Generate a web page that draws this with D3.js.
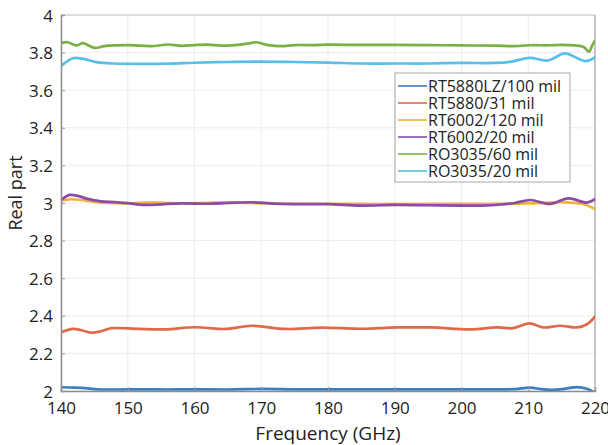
<!DOCTYPE html>
<html>
<head>
<meta charset="utf-8">
<script src="https://cdn.jsdelivr.net/npm/d3@7"></script>
<style>
  html, body { margin: 0; padding: 0; background: #fff; }
  svg { display: block; font-family: "Open Sans", "Noto Sans", sans-serif; }
</style>
</head>
<body>
<svg id="chart" width="608" height="445"></svg>
<script>
// Real part of permittivity vs frequency for six laminate samples
const xTicks = [140, 150, 160, 170, 180, 190, 200, 210, 220];
const yTicks = [2, 2.2, 2.4, 2.6, 2.8, 3, 3.2, 3.4, 3.6, 3.8, 4];

const seriesNames = ["RT5880LZ/100 mil", "RT5880/31 mil", "RT6002/120 mil",
                     "RT6002/20 mil", "RO3035/60 mil", "RO3035/20 mil"];
const seriesColors = ["#3a7dc0", "#e0694a", "#efb23e", "#8a4ca6", "#7bb046", "#58bfea"];

const rt5880lzFreq = [140, 142, 144, 145.5, 148, 152, 156, 160, 165, 170, 175, 180, 185, 190, 195, 200, 205, 208, 210.2, 212, 213.3, 215.5, 217.3, 218.8, 220];
const rt5880lzVal  = [2.02, 2.018, 2.014, 2.009, 2.008, 2.009, 2.008, 2.009, 2.008, 2.011, 2.009, 2.009, 2.009, 2.009, 2.009, 2.009, 2.009, 2.01, 2.018, 2.01, 2.006, 2.012, 2.021, 2.012, 1.992];

const rt5880Freq = [140, 141.8, 143.2, 144.6, 146, 147.6, 151.6, 155.6, 160, 164.6, 168.6, 173.6, 179, 185, 190.3, 195.3, 201.3, 205.3, 207.7, 210.2, 212.2, 214.8, 217.3, 218.8, 220];
const rt5880Val  = [2.312, 2.33, 2.322, 2.31, 2.318, 2.334, 2.33, 2.328, 2.339, 2.33, 2.347, 2.33, 2.337, 2.331, 2.338, 2.338, 2.328, 2.338, 2.334, 2.36, 2.338, 2.347, 2.338, 2.355, 2.395];

const rt6002thickFreq = [140, 141.5, 143, 145, 147, 150, 153.7, 157, 160, 165, 168, 172, 176, 180, 185, 190, 195, 200, 205, 210, 215, 218, 220];
const rt6002thickVal  = [3.012, 3.02, 3.016, 3.006, 3.0, 2.998, 3.004, 2.998, 2.999, 3.003, 3.0, 2.997, 2.996, 2.996, 2.995, 2.994, 2.995, 2.996, 2.996, 2.998, 3.004, 2.996, 2.968];

const rt6002thinFreq = [140, 141.3, 142.5, 144, 146, 148, 150, 152.5, 155, 158, 162, 165, 168.6, 172, 176, 180, 185, 190, 195, 200, 203, 206, 208, 210.3, 213.3, 216, 218.8, 220];
const rt6002thinVal  = [3.016, 3.043, 3.038, 3.022, 3.009, 3.005, 2.999, 2.99, 2.993, 2.998, 2.996, 3.0, 3.004, 2.997, 2.994, 2.994, 2.986, 2.99, 2.988, 2.986, 2.986, 2.992, 3.0, 3.016, 2.995, 3.025, 3.002, 3.02];

const ro3035thickFreq = [140, 141, 142.3, 143.3, 145, 146.5, 148, 150, 152, 154, 156, 158, 160, 162, 164, 166, 168, 169.3, 171, 173, 175, 178, 180, 185, 190, 195, 200, 205, 208, 210, 213, 215, 217, 218.3, 219.1, 219.6, 220];
const ro3035thickVal  = [3.85, 3.855, 3.838, 3.85, 3.825, 3.834, 3.838, 3.84, 3.837, 3.835, 3.843, 3.836, 3.84, 3.842, 3.837, 3.84, 3.848, 3.855, 3.84, 3.834, 3.84, 3.84, 3.842, 3.841, 3.841, 3.84, 3.838, 3.837, 3.834, 3.839, 3.839, 3.841, 3.838, 3.83, 3.805, 3.84, 3.863];

const ro3035thinFreq = [140, 141.8, 143.5, 145.5, 148, 152, 156, 160, 165, 170, 175, 180, 185, 190, 195, 200, 205, 207.5, 210.2, 213, 215.5, 218.5, 220];
const ro3035thinVal  = [3.728, 3.77, 3.765, 3.748, 3.742, 3.74, 3.741, 3.746, 3.75, 3.752, 3.75, 3.747, 3.742, 3.742, 3.742, 3.745, 3.745, 3.752, 3.772, 3.758, 3.796, 3.755, 3.775];

const seriesFreq = [rt5880lzFreq, rt5880Freq, rt6002thickFreq, rt6002thinFreq, ro3035thickFreq, ro3035thinFreq];
const seriesVal  = [rt5880lzVal, rt5880Val, rt6002thickVal, rt6002thinVal, ro3035thickVal, ro3035thinVal];

const W = 608, H = 445;
const margin = { left: 61, right: 13, top: 15, bottom: 54 };
const svg = d3.select("#chart");

const x = d3.scaleLinear().domain([140, 220]).range([margin.left, W - margin.right]);
const y = d3.scaleLinear().domain([2, 4]).range([H - margin.bottom, margin.top]);

// grid
const grid = svg.append("g").attr("stroke", "#ececec").attr("stroke-width", 1);
grid.selectAll(".gx").data(xTicks).join("line")
  .attr("x1", d => x(d)).attr("x2", d => x(d))
  .attr("y1", y(2)).attr("y2", y(4));
grid.selectAll(".gy").data(yTicks).join("line")
  .attr("x1", x(140)).attr("x2", x(220))
  .attr("y1", d => y(d)).attr("y2", d => y(d));

// frame (top / right)
svg.append("line").attr("x1", x(140)).attr("x2", x(220)).attr("y1", y(4)).attr("y2", y(4))
  .attr("stroke", "#c4c4c4").attr("stroke-width", 1.2);
svg.append("line").attr("x1", x(220)).attr("x2", x(220)).attr("y1", y(4)).attr("y2", y(2))
  .attr("stroke", "#b4b4b4").attr("stroke-width", 1.5);

// clip for data lines
svg.append("clipPath").attr("id", "plotclip").append("rect")
  .attr("x", x(140)).attr("y", y(4) - 2).attr("width", x(220) - x(140)).attr("height", y(2) - y(4) + 3);

const line = d3.line().curve(d3.curveCatmullRom.alpha(0.5));
const lines = svg.append("g").attr("clip-path", "url(#plotclip)");
seriesNames.forEach((name, i) => {
  const pts = seriesFreq[i].map((f, j) => [x(f), y(seriesVal[i][j])]);
  lines.append("path")
    .attr("d", line(pts))
    .attr("fill", "none")
    .attr("stroke", seriesColors[i])
    .attr("stroke-width", 2.7)
    .attr("stroke-linejoin", "round")
    .attr("stroke-linecap", "round");
});

// axes
const xAxis = d3.axisBottom(x).tickValues(xTicks).tickSize(-4).tickPadding(9).tickFormat(d3.format("d"));
const yAxis = d3.axisLeft(y).tickValues(yTicks).tickSize(-4).tickPadding(8).tickFormat(d3.format("~g"));

const gx = svg.append("g").attr("transform", `translate(0,${y(2)})`).call(xAxis);
const gy = svg.append("g").attr("transform", `translate(${x(140)},0)`).call(yAxis);
[gx, gy].forEach(g => {
  g.select(".domain").attr("stroke", "#8c8c8c").attr("stroke-width", 1.5);
  g.selectAll(".tick line").attr("stroke", "#999");
  g.selectAll(".tick text").attr("fill", "#222").style("font-size", "17px")
    .style("font-family", "\"Open Sans\", \"Noto Sans\", sans-serif");
});
gy.selectAll(".tick text").attr("dy", "0.36em");
gx.selectAll(".tick text").attr("dy", "0.8em");

// axis titles
svg.append("text").attr("x", (x(140) + x(220)) / 2).attr("y", 440)
  .attr("text-anchor", "middle").attr("fill", "#222").style("font-size", "19px")
  .text("Frequency (GHz)");
svg.append("text").attr("transform", "translate(22,193) rotate(-90)")
  .attr("text-anchor", "middle").attr("fill", "#222").style("font-size", "18px")
  .text("Real part");

// legend
const lg = svg.append("g");
lg.append("rect").attr("x", 395).attr("y", 73).attr("width", 175).attr("height", 109)
  .attr("fill", "#fff").attr("stroke", "#a8a8a8").attr("stroke-width", 1);
seriesNames.forEach((name, i) => {
  const cy = 86 + i * 17;
  lg.append("line").attr("x1", 398).attr("x2", 427).attr("y1", cy).attr("y2", cy)
    .attr("stroke", seriesColors[i]).attr("stroke-width", 1.6);
  lg.append("text").attr("x", 428).attr("y", cy).attr("dy", "0.36em")
    .attr("fill", "#222").style("font-size", "16px").text(name);
});
</script>
</body>
</html>
